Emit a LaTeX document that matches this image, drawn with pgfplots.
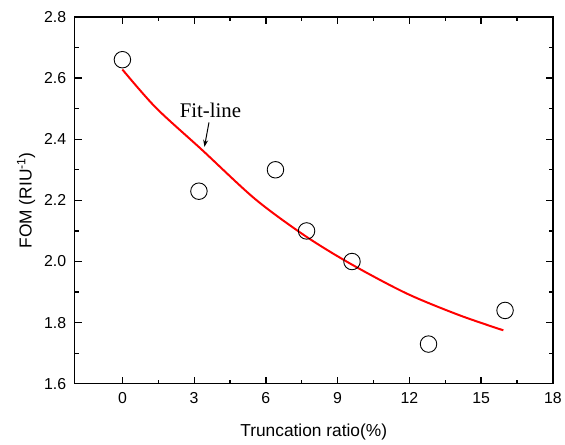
\documentclass[border=0pt]{standalone}
\usepackage{pgfplots}
\pgfplotsset{compat=1.18}
\usetikzlibrary{arrows.meta}
\usepackage{fontspec}
\setmainfont{Liberation Sans}
\newfontfamily\seriffont{Liberation Serif}
\begin{document}
\begin{tikzpicture}
\begin{axis}[
  scale only axis,
  width=481bp, height=369bp,
  xmin=-2, xmax=18, ymin=1.6, ymax=2.8,
  xtick={0,3,...,18}, ytick={1.6,1.8,...,2.81},
  minor x tick num=1, minor y tick num=1,
  tick align=inside,
  major tick length=7bp, minor tick length=4bp,
  every tick/.style={black, line width=1.3pt},
  axis line style={line width=1.3pt},
  tick label style={font=\fontsize{16}{18}\selectfont},
  label style={font=\fontsize{17.5}{20}\selectfont},
  /pgf/number format/assume math mode=true,
  yticklabel style={/pgf/number format/fixed, /pgf/number format/fixed zerofill, /pgf/number format/precision=1, xshift=-5bp},
  xticklabel style={yshift=-5bp},
  xlabel={Truncation ratio(\%)},
  ylabel={FOM (RIU\textsuperscript{-1})},
  xlabel style={yshift=-14bp},
  ylabel style={yshift=2bp},
  clip=false,
]
\addplot[only marks, mark=o, mark size=8.3bp, black, mark options={line width=0.9pt}] coordinates {
  (0,2.66) (3.2,2.23) (6.4,2.30) (7.7,2.10) (9.6,2.00) (12.8,1.73) (16,1.84)
};
\addplot[red, line width=2pt, smooth] coordinates {
  (0,2.628) (1.4,2.503) (3.33,2.365) (5.54,2.205) (7.6,2.086) (9.53,1.993) (11.87,1.896) (14.07,1.825) (15.93,1.775)
};
\node[font=\seriffont\fontsize{21}{24}\selectfont] at (axis cs:3.68,2.494) {Fit-line};
\draw[-{Stealth[length=7bp,width=5bp]}, line width=1pt] (axis cs:3.62,2.455) -- (axis cs:3.43,2.375);
\end{axis}
\path[use as bounding box] (-75bp,-61bp) rectangle (490bp,386bp);
\end{tikzpicture}
\end{document}
